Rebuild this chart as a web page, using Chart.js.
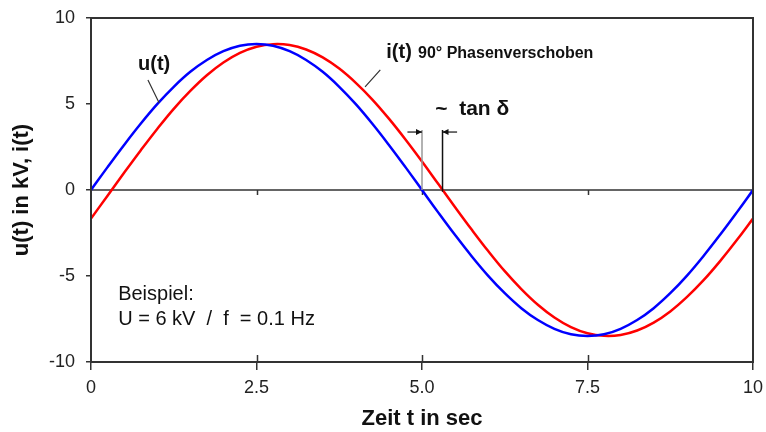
<!DOCTYPE html>
<html>
<head>
<meta charset="utf-8">
<script src="https://cdn.jsdelivr.net/npm/chart.js@4"></script>
<style>
  html, body { margin: 0; padding: 0; background: #fff; }
  #wrap { width: 766px; height: 432px; }
</style>
</head>
<body>
<div id="wrap"><canvas id="grafico" width="766" height="432"></canvas></div>
<script>
const zeit = [0, 0.25, 0.5, 0.75, 1, 1.25, 1.5, 1.75, 2, 2.25, 2.5, 2.75, 3, 3.25, 3.5, 3.75, 4, 4.25, 4.5, 4.75,
  5, 5.25, 5.5, 5.75, 6, 6.25, 6.5, 6.75, 7, 7.25, 7.5, 7.75, 8, 8.25, 8.5, 8.75, 9, 9.25, 9.5, 9.75, 10];
const spannung = [0, 1.33, 2.62, 3.85, 4.99, 6.0, 6.87, 7.56, 8.07, 8.39, 8.49, 8.39, 8.07, 7.56, 6.87, 6.0, 4.99, 3.85, 2.62, 1.33,
  0, -1.33, -2.62, -3.85, -4.99, -6.0, -6.87, -7.56, -8.07, -8.39, -8.49, -8.39, -8.07, -7.56, -6.87, -6.0, -4.99, -3.85, -2.62, -1.33, 0];
const strom = [-1.66, -0.33, 1.0, 2.3, 3.55, 4.72, 5.76, 6.67, 7.41, 7.97, 8.33, 8.48, 8.43, 8.17, 7.71, 7.06, 6.23, 5.26, 4.15, 2.94,
  1.66, 0.33, -1.0, -2.3, -3.55, -4.72, -5.76, -6.67, -7.41, -7.97, -8.33, -8.48, -8.43, -8.17, -7.71, -7.06, -6.23, -5.26, -4.15, -2.94, -1.66];
const xTicks = [0, 2.5, 5, 7.5, 10];
const xTickLabels = ["0", "2.5", "5.0", "7.5", "10"];
const yTicks = [-10, -5, 0, 5, 10];

const FONT = "'Liberation Sans', Arial, sans-serif";
const LINIE = "#333";

// Nulllinie, Rahmen und Beschriftungen im Diagramm
const anmerkungen = {
  id: "anmerkungen",
  beforeDatasetsDraw(chart) {
    const { ctx, chartArea: a, scales: { x, y } } = chart;
    const y0 = y.getPixelForValue(0);
    ctx.save();
    ctx.strokeStyle = LINIE;
    ctx.lineWidth = 1.5;
    ctx.beginPath();
    ctx.moveTo(a.left, y0);
    ctx.lineTo(a.right, y0);
    // kleine Striche an der Nulllinie und innen an der x-Achse
    [2.5, 5, 7.5].forEach(t => {
      const px = Math.round(x.getPixelForValue(t)) + 0.5;
      ctx.moveTo(px, y0);
      ctx.lineTo(px, y0 + 5);
      ctx.moveTo(px, a.bottom);
      ctx.lineTo(px, a.bottom - 7);
    });
    ctx.stroke();
    ctx.restore();
  },
  afterDatasetsDraw(chart) {
    const { ctx, chartArea: a, scales: { x, y } } = chart;
    const X = v => x.getPixelForValue(v);
    const Y = v => y.getPixelForValue(v);
    ctx.save();

    // Rahmen
    ctx.strokeStyle = LINIE;
    ctx.lineWidth = 2;
    ctx.strokeRect(a.left, a.top, a.right - a.left, a.bottom - a.top);

    // Hinweislinien
    ctx.lineWidth = 1.2;
    ctx.strokeStyle = "#333";
    ctx.beginPath();
    ctx.moveTo(X(0.86), Y(6.4));
    ctx.lineTo(X(1.03), Y(5.06));
    ctx.moveTo(X(4.37), Y(6.98));
    ctx.lineTo(X(4.14), Y(5.99));
    ctx.stroke();

    // senkrechte Linien an den Nulldurchgängen
    ctx.lineWidth = 1.5;
    ctx.strokeStyle = "#999";
    ctx.beginPath();
    ctx.moveTo(X(5.0), Y(0));
    ctx.lineTo(X(5.0), Y(3.49));
    ctx.stroke();
    ctx.strokeStyle = "#111";
    ctx.beginPath();
    ctx.moveTo(X(5.31), Y(-0.1));
    ctx.lineTo(X(5.31), Y(3.49));
    ctx.stroke();

    // Pfeile
    const pfeil = (von, bis, h) => {
      const x1 = X(von), x2 = X(bis), py = Y(h);
      const d = Math.sign(x2 - x1);
      ctx.strokeStyle = "#111";
      ctx.fillStyle = "#111";
      ctx.lineWidth = 1.2;
      ctx.beginPath();
      ctx.moveTo(x1, py);
      ctx.lineTo(x2, py);
      ctx.stroke();
      ctx.beginPath();
      ctx.moveTo(x2, py);
      ctx.lineTo(x2 - d * 6, py - 3);
      ctx.lineTo(x2 - d * 6, py + 3);
      ctx.closePath();
      ctx.fill();
    };
    pfeil(4.78, 5.0, 3.37);
    pfeil(5.53, 5.31, 3.37);

    // Texte
    ctx.fillStyle = "#111";
    ctx.textBaseline = "alphabetic";
    ctx.textAlign = "left";
    ctx.font = "bold 20px " + FONT;
    ctx.fillText("u(t)", X(0.71), Y(7.0));
    ctx.fillText("i(t)", X(4.46), Y(7.7));
    ctx.font = "bold 16px " + FONT;
    ctx.fillText("90° Phasenverschoben", X(4.94), Y(7.7));
    ctx.font = "bold 21px " + FONT;
    ctx.fillText("~  tan δ", X(5.2), Y(4.36));
    ctx.font = "20px " + FONT;
    ctx.fillText("Beispiel:", X(0.41), Y(-6.4));
    ctx.fillText("U = 6 kV  /  f  = 0.1 Hz", X(0.41), Y(-7.85));
    ctx.restore();
  }
};

const ctx = document.getElementById("grafico").getContext("2d");
new Chart(ctx, {
  type: "line",
  data: {
    datasets: [
      {
        label: "u(t)",
        data: zeit.map((t, i) => ({ x: t, y: spannung[i] })),
        borderColor: "#0000ff",
        borderWidth: 2.5,
        pointRadius: 0,
        tension: 0.4,
        fill: false
      },
      {
        label: "i(t)",
        data: zeit.map((t, i) => ({ x: t, y: strom[i] })),
        borderColor: "#ff0000",
        borderWidth: 2.5,
        pointRadius: 0,
        tension: 0.4,
        fill: false
      }
    ]
  },
  options: {
    responsive: false,
    animation: false,
    layout: { padding: { top: 18, right: 13, left: 0, bottom: 0 } },
    plugins: {
      legend: { display: false },
      tooltip: { enabled: false }
    },
    scales: {
      x: {
        type: "linear",
        min: 0,
        max: 10,
        afterBuildTicks: s => { s.ticks = xTicks.map(v => ({ value: v })); },
        afterFit: s => { s.height = 70; s.paddingLeft = 0; s.paddingRight = 0; },
        grid: { drawOnChartArea: false, tickLength: 8, color: LINIE, lineWidth: 1.5 },
        border: { color: LINIE, width: 2 },
        ticks: {
          autoSkip: false,
          maxRotation: 0,
          padding: 7,
          color: "#222",
          font: { family: FONT, size: 18 },
          callback: (v, i) => xTickLabels[i]
        },
        title: {
          display: true,
          text: "Zeit t in sec",
          color: "#111",
          padding: { top: 0, bottom: 0 },
          font: { family: FONT, size: 22, weight: "bold" }
        }
      },
      y: {
        min: -10,
        max: 10,
        afterBuildTicks: s => { s.ticks = yTicks.map(v => ({ value: v })); },
        afterFit: s => { s.width = 91; s.paddingTop = 0; s.paddingBottom = 0; },
        grid: { drawOnChartArea: false, tickLength: 5, color: LINIE, lineWidth: 1.5 },
        border: { color: LINIE, width: 2 },
        ticks: {
          padding: 11,
          color: "#222",
          font: { family: FONT, size: 18 },
          callback: v => String(v)
        },
        title: {
          display: true,
          text: "u(t) in kV, i(t)",
          color: "#111",
          padding: { top: 9, bottom: 0 },
          font: { family: FONT, size: 22, weight: "bold" }
        }
      }
    }
  },
  plugins: [anmerkungen]
});
</script>
</body>
</html>
